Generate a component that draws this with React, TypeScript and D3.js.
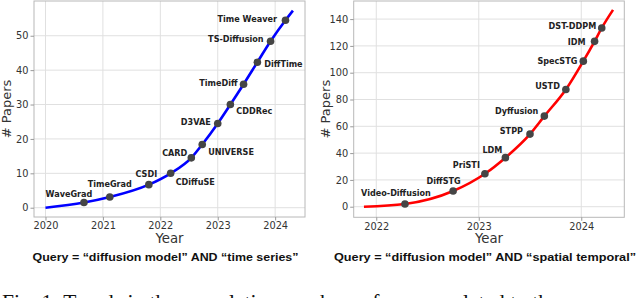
import React, { useEffect, useRef } from 'react';
import * as d3 from 'd3';

// left panel: "time series"
const tsModels = ['WaveGrad', 'TimeGrad', 'CSDI', 'CDiffuSE', 'CARD', 'UNIVERSE', 'D3VAE', 'CDDRec', 'TimeDiff', 'DiffTime', 'TS-Diffusion', 'Time Weaver'];
const tsYears = [2020.67, 2021.12, 2021.8, 2022.18, 2022.54, 2022.73, 2023.0, 2023.22, 2023.45, 2023.69, 2023.92, 2024.18];
const tsPapers = [1.5, 3.1, 6.7, 10, 14.5, 18.4, 24.5, 30, 35.9, 42.3, 48.4, 54.5];
const tsTrendStart = [2020, 0];
const tsTrendEnd = [2024.31, 57.3];
const tsYTicks = [0, 10, 20, 30, 40, 50];
const tsXTicks = [2020, 2021, 2022, 2023, 2024];

// right panel: "spatial temporal"
const stModels = ['Video-Diffusion', 'DiffSTG', 'PriSTI', 'LDM', 'STPP', 'Dyffusion', 'USTD', 'SpecSTG', 'IDM', 'DST-DDPM'];
const stYears = [2022.28, 2022.75, 2023.06, 2023.26, 2023.5, 2023.64, 2023.85, 2024.02, 2024.13, 2024.2];
const stPapers = [2, 11.7, 24.6, 36.6, 54.2, 67.6, 87.5, 108.6, 123.4, 133.4];
const stTrendStart = [2021.88, 0];
const stTrendEnd = [2024.31, 146.9];
const stYTicks = [0, 20, 40, 60, 80, 100, 120, 140];
const stXTicks = [2022, 2023, 2024];

// label placement [anchor, dx, dy]
const tsLabelPos: [string, number, number][] = [
  ['middle', -15, -6], ['middle', 0, -10], ['middle', -2.5, -8], ['start', 5, 11.5],
  ['end', -4, -2], ['start', 6, 11], ['end', -7, 1.5], ['start', 6, 9],
  ['end', -6, 2], ['start', 7, 4.5], ['end', -7, 1], ['end', -8.5, 2]
];
const stLabelPos: [string, number, number][] = [
  ['middle', -9, -8.5], ['middle', -9.5, -7.5], ['end', -5, -6], ['end', -3, -5],
  ['end', -7, 0], ['end', -6, -2], ['end', -6, 0], ['end', -6, 3],
  ['end', -9, 3.5], ['end', -5.5, 1]
];

const tickFont = 'DejaVu Sans, sans-serif';

function Panel(props: any) {
  const { box, xDomain, yDomain, xTicks, yTicks, years, papers, models, labelPos, start, end, color, subtitle, subWidth } = props;
  const xAxisRef = useRef<SVGGElement>(null);
  const yAxisRef = useRef<SVGGElement>(null);

  const x = d3.scaleLinear().domain(xDomain).range([box.x0, box.x1]);
  const y = d3.scaleLinear().domain(yDomain).range([box.y1, box.y0]);

  useEffect(() => {
    const xa = d3.select(xAxisRef.current!);
    xa.call(d3.axisBottom(x).tickValues(xTicks).tickFormat(d3.format('d')).tickSize(3.5).tickPadding(2) as any);
    const ya = d3.select(yAxisRef.current!);
    ya.call(d3.axisLeft(y).tickValues(yTicks).tickFormat(d3.format('d')).tickSize(3.5).tickPadding(2) as any);
    [xa, ya].forEach(g => {
      g.select('.domain').remove();
      g.selectAll('line').attr('stroke', '#999');
      g.selectAll('text').attr('fill', '#333').attr('font-size', 9.8).attr('font-family', tickFont);
    });
  });

  const pts: [number, number][] = [[start[0], start[1]], ...years.map((yr: number, i: number) => [yr, papers[i]] as [number, number]), [end[0], end[1]]];
  const line = d3.line<[number, number]>().x(d => x(d[0])).y(d => y(d[1])).curve(d3.curveMonotoneX);

  const cx = (box.x0 + box.x1) / 2;
  const cy = (box.y0 + box.y1) / 2;

  return (
    <g>
      <rect x={box.x0} y={box.y0} width={box.x1 - box.x0} height={box.y1 - box.y0} fill="white" />
      {xTicks.map((t: number) => (
        <line key={'gx' + t} x1={x(t)} x2={x(t)} y1={box.y0} y2={box.y1} stroke="#e0e0e0" strokeWidth={1} />
      ))}
      {yTicks.map((t: number) => (
        <line key={'gy' + t} x1={box.x0} x2={box.x1} y1={y(t)} y2={y(t)} stroke="#e0e0e0" strokeWidth={1} />
      ))}
      <rect x={box.x0} y={box.y0} width={box.x1 - box.x0} height={box.y1 - box.y0} fill="none" stroke="#b8b8b8" strokeWidth={1} />
      <g ref={xAxisRef} transform={`translate(0,${box.y1})`} />
      <g ref={yAxisRef} transform={`translate(${box.x0},0)`} />
      <path d={line(pts) || ''} fill="none" stroke={color} strokeWidth={2.6} />
      {years.map((yr: number, i: number) => (
        <circle key={'p' + i} cx={x(yr)} cy={y(papers[i])} r={3.8} fill="#454545" />
      ))}
      {models.map((m: string, i: number) => (
        <text key={'l' + i} x={x(years[i]) + labelPos[i][1]} y={y(papers[i]) + labelPos[i][2]}
          textAnchor={labelPos[i][0]} fontFamily={tickFont} fontWeight="bold" fontSize={8.1} fill="#222">{m}</text>
      ))}
      <text x={cx} y={243} textAnchor="middle" fontFamily={tickFont} fontSize={13.3} fill="#333">Year</text>
      <text transform={`translate(${box.x0 - 23.5},${cy}) rotate(-90)`} textAnchor="middle" fontFamily={tickFont} fontSize={13} fill="#333"># Papers</text>
      <text x={cx - 4} y={260.5} textAnchor="middle" fontFamily="Liberation Sans, Arial, sans-serif" fontWeight="bold" fontSize={10}
        textLength={subWidth} lengthAdjust="spacingAndGlyphs" fill="#111">{subtitle}</text>
    </g>
  );
}

export default function App() {
  return (
    <div style={{ position: 'fixed', left: 0, top: 0 }}>
      <svg width={640} height={298} style={{ display: 'block', background: 'white' }}>
        <Panel box={{ x0: 34, x1: 305, y0: 1, y1: 217 }} xDomain={[2019.8, 2024.52]} yDomain={[-2.7, 60.1]}
          xTicks={tsXTicks} yTicks={tsYTicks} years={tsYears} papers={tsPapers} models={tsModels}
          labelPos={tsLabelPos} start={tsTrendStart} end={tsTrendEnd} color="#0000ff"
          subtitle={'Query = \u201cdiffusion model\u201d AND \u201ctime series\u201d'} subWidth={266} />
        <Panel box={{ x0: 353.7, x1: 624.3, y0: 1, y1: 217.3 }} xDomain={[2021.78, 2024.42]} yDomain={[-7.9, 153.5]}
          xTicks={stXTicks} yTicks={stYTicks} years={stYears} papers={stPapers} models={stModels}
          labelPos={stLabelPos} start={stTrendStart} end={stTrendEnd} color="#ff0000"
          subtitle={'Query = \u201cdiffusion model\u201d AND \u201cspatial temporal\u201d'} subWidth={302} />
        <text x={2} y={308.5} fontFamily="Liberation Serif, serif" fontSize={21.5} fill="#111">
          Fig. 1: Trends in the cumulative numbers of papers related to the
        </text>
      </svg>
    </div>
  );
}
